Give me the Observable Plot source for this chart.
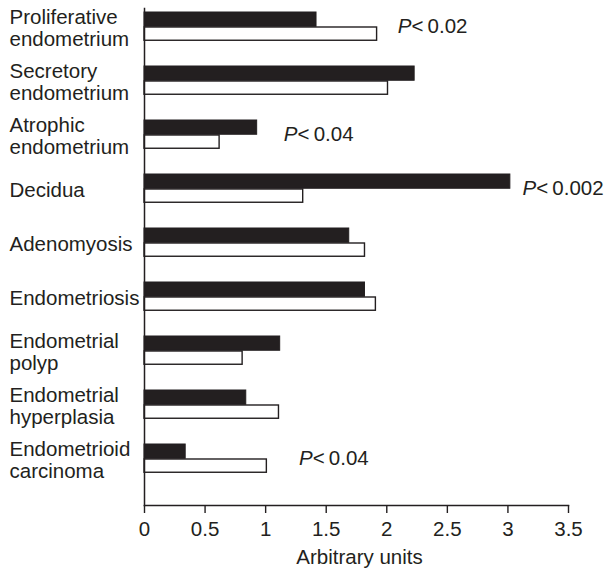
<!DOCTYPE html>
<html>
<head>
<meta charset="utf-8">
<script src="https://cdn.jsdelivr.net/npm/d3@7"></script>
<script src="https://cdn.jsdelivr.net/npm/@observablehq/plot@0.6"></script>
<style>
  html, body { margin: 0; padding: 0; background: #fff; }
  #chart svg { display: block; }
</style>
</head>
<body>
<div id="chart"></div>
<script>
const categories = [
  "Proliferative\nendometrium",
  "Secretory\nendometrium",
  "Atrophic\nendometrium",
  "Decidua",
  "Adenomyosis",
  "Endometriosis",
  "Endometrial\npolyp",
  "Endometrial\nhyperplasia",
  "Endometrioid\ncarcinoma"
];
const blackValues = [1.42, 2.23, 0.93, 3.02, 1.69, 1.82, 1.12, 0.84, 0.34];
const whiteValues = [1.92, 2.01, 0.62, 1.31, 1.82, 1.91, 0.81, 1.11, 1.01];
const xTicks = [0, 0.5, 1, 1.5, 2, 2.5, 3, 3.5];
const xLabel = "Arbitrary units";

const pCategories = [categories[0], categories[2], categories[3], categories[8]];
const pX = [2.09, 1.15, 3.12, 1.275];
const pText = ["<\u20090.02", "<\u20090.04", "<\u20090.002", "<\u20090.04"];

const blackData = categories.map((c, i) => ({cat: c, value: blackValues[i]}));
const whiteData = categories.map((c, i) => ({cat: c, value: whiteValues[i]}));
const pData = pCategories.map((c, i) => ({cat: c, x: pX[i], text: pText[i]}));

const font = "'Liberation Sans', Arial, Helvetica, sans-serif";
const ink = "#231f20";
const fs = 20.5;

const chart = Plot.plot({
  width: 608,
  height: 568,
  marginLeft: 144,
  marginRight: 40,
  marginTop: 8,
  marginBottom: 63,
  style: {fontFamily: font, fontSize: fs + "px", color: ink, background: "#fff"},
  x: {domain: [0, 3.5]},
  y: {domain: categories, range: [5, 505], paddingInner: 0, paddingOuter: 0.066, align: 0, axis: null},
  marks: [
    Plot.barX(blackData, {y: "cat", x: "value", fill: ink, stroke: ink, strokeWidth: 1, insetTop: 7, insetBottom: 32.75}),
    Plot.barX(whiteData, {y: "cat", x: "value", fill: "#fff", stroke: ink, strokeWidth: 1.4, insetTop: 22, insetBottom: 18.75}),
    Plot.frame({anchor: "left", stroke: ink, strokeWidth: 1.5}),
    Plot.frame({anchor: "bottom", stroke: ink, strokeWidth: 1.5}),
    Plot.axisX({ticks: xTicks, tickFormat: d => String(d), tickSize: 8, tickPadding: 8, fontSize: fs, label: null, stroke: ink, strokeWidth: 1.4, fill: ink}),
    Plot.text(categories, {y: d => d, text: d => d, frameAnchor: "left", dx: -135, dy: -5, textAnchor: "start", lineAnchor: "middle", lineHeight: 1.08, fontSize: fs, fill: ink}),
    Plot.text(pData, {y: "cat", x: "x", text: () => "P", textAnchor: "start", lineAnchor: "middle", dy: -6, fontSize: fs, fontStyle: "italic", fill: ink}),
    Plot.text(pData, {y: "cat", x: "x", text: "text", textAnchor: "start", lineAnchor: "middle", dx: 13.8, dy: -6, fontSize: fs, fill: ink}),
    Plot.text([xLabel], {text: d => d, frameAnchor: "bottom", dx: 3, dy: 52, lineAnchor: "middle", fontSize: fs, fill: ink})
  ]
});
document.getElementById("chart").appendChild(chart);
</script>
</body>
</html>
